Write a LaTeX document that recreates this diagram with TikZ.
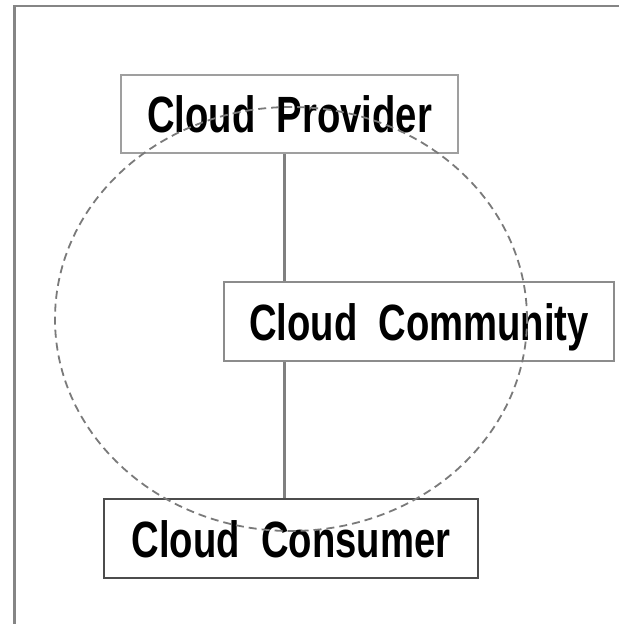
\documentclass[tikz,border=0pt]{standalone}
\usepackage{fontspec}
\newfontfamily\lblfont[FakeStretch=0.75, WordSpace=2.0]{Liberation Sans}
\usetikzlibrary{positioning}
\definecolor{framegray}{HTML}{858585}
\definecolor{linegray}{HTML}{808080}
\definecolor{dashgray}{HTML}{7A7A7A}
\tikzset{
  entity/.style={draw, line width=2pt, inner sep=0pt, align=center,
    font=\lblfont\bfseries\fontsize{51}{51}\selectfont,
    text height=37pt, text depth=0pt},
  link/.style={draw=linegray, line width=3pt},
  scope ring/.style={draw=dashgray, line width=1.8pt, dash pattern=on 8pt off 5pt}
}
\begin{document}
\begin{tikzpicture}[x=1pt, y=-1pt]
  \useasboundingbox (0,0) rectangle (619,624);
  % page frame: only the left and top edges are visible
  \draw[framegray, line width=2.5pt] (14.5,624) -- (14.5,6) -- (619,6);

  \node[entity, draw=gray!75, minimum width=337pt, minimum height=78pt]
    (prov) at (289.5,114) {Cloud Provider};
  \node[entity, draw=gray!90, minimum width=390pt, minimum height=79pt]
    (comm) at (419,321.5) {Cloud Community};
  \node[entity, draw=black!70, minimum width=374pt, minimum height=79pt]
    (cons) at (291,538.5) {Cloud Consumer};

  % vertical spine joining the three parties
  \coordinate (spine) at (284.5,0);
  \draw[link] (prov.south -| spine) -- (comm.north -| spine);
  \draw[link] (comm.south -| spine) -- (cons.north -| spine);

  % community boundary
  \coordinate (ringc) at (291,319);
  \draw[scope ring] (ringc) ellipse [x radius=236pt, y radius=212pt];
\end{tikzpicture}
\end{document}
